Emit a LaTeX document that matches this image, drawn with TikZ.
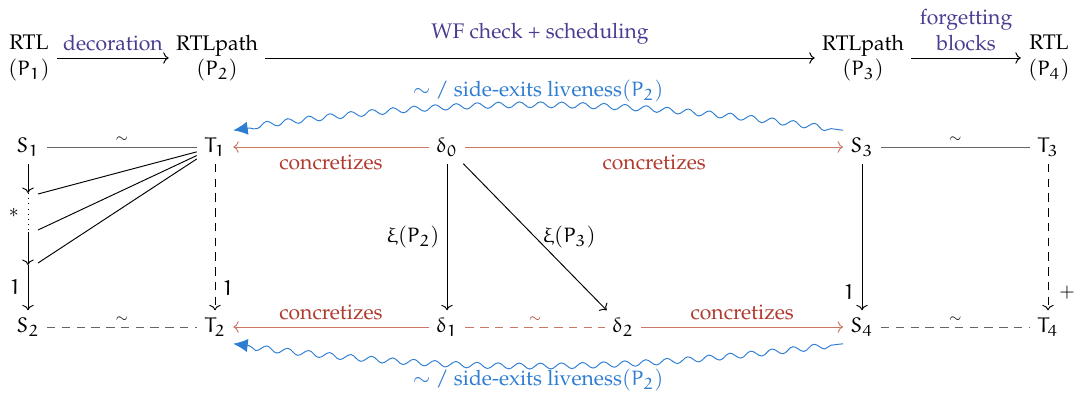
\documentclass[tikz,border=0pt]{standalone}
\usepackage[T1]{fontenc}
\usepackage{mathpazo}
\DeclareSymbolFont{letters}{U}{eur}{m}{n}
\SetSymbolFont{letters}{bold}{U}{eur}{b}{n}
\DeclareMathSymbol{0}{\mathalpha}{letters}{`0}
\DeclareMathSymbol{1}{\mathalpha}{letters}{`1}
\DeclareMathSymbol{2}{\mathalpha}{letters}{`2}
\DeclareMathSymbol{3}{\mathalpha}{letters}{`3}
\DeclareMathSymbol{4}{\mathalpha}{letters}{`4}
\usetikzlibrary{arrows.meta,decorations.pathmorphing}
\definecolor{purp}{RGB}{72,61,145}
\definecolor{redl}{RGB}{204,118,102}
\definecolor{redt}{RGB}{176,58,46}
\definecolor{bluel}{RGB}{46,125,210}
\definecolor{grayl}{RGB}{100,100,100}
\begin{document}
\begin{tikzpicture}[x=0.4735pt,y=-0.4735pt,line width=0.45pt,
  obj/.style={inner sep=3.33pt},
  simline/.style={draw=grayl},
  sim/.style={font=\scriptsize,inner sep=2pt},
  redarr/.style={draw=redl,->},
  rlab/.style={text=redt},
  plab/.style={text=purp},
  dsh/.style={dash pattern=on 4pt off 3pt},
  squig/.style={draw=bluel,-{Latex[length=2.4mm,width=2.2mm]},decorate,
    decoration={snake,amplitude=1.4pt,segment length=10pt,pre length=2mm,post length=2.2mm}},
  blab/.style={text=bluel,inner sep=1.5pt},
 ]
\useasboundingbox (0,0) rectangle (1078,398);
% top row
\node[obj,align=center] (r1) at (29,58) {RTL\\$(P_1)$};
\node[obj,align=center] (r2) at (217,58) {RTLpath\\$(P_2)$};
\node[obj,align=center] (r3) at (863,58) {RTLpath\\$(P_3)$};
\node[obj,align=center] (r4) at (1049,58) {RTL\\$(P_4)$};
\draw[->] (r1) -- node[above,plab] {decoration} (r2);
\draw[->] (r2) -- node[above=3pt,plab] {WF check + scheduling} (r3);
\draw[->] (r3) -- node[above,plab,align=center] {forgetting\\blocks} (r4);
% main nodes
\node[obj] (S1) at (28,147) {$S_1$};
\node[obj] (T1) at (215,147) {$T_1$};
\node[obj] (d0) at (447,147) {$\delta_0$};
\node[obj] (S3) at (862,147) {$S_3$};
\node[obj] (T3) at (1048,147) {$T_3$};
\node[obj] (S2) at (28,327) {$S_2$};
\node[obj] (T2) at (215,327) {$T_2$};
\node[obj] (d1) at (447,327) {$\delta_1$};
\node[obj] (d2) at (623,327) {$\delta_2$};
\node[obj] (S4) at (862,327) {$S_4$};
\node[obj] (T4) at (1048,327) {$T_4$};
% S1 chain
\coordinate (c1) at (28,193);
\coordinate (c2) at (28,232);
\coordinate (c3) at (28,265);
\coordinate (p1) at (38,194);
\coordinate (p2) at (38,230);
\coordinate (p3) at (38,263);
\draw[->] (S1) -- (c1);
\draw[dotted] (c1) -- node[left,font=\small,inner sep=4pt] {$*$} (c2);
\draw[->] (c2) -- (c3);
\draw[->] (c3) -- node[left] {$1$} (S2);
\draw (T1) -- (p1);
\draw (T1) -- (p2);
\draw (T1) -- (p3);
% similarity lines
\draw[simline] (S1) -- node[above,sim] {$\sim$} (T1);
\draw[simline] (S3) -- node[above,sim] {$\sim$} (T3);
\draw[simline,dsh] (S2) -- node[above,sim] {$\sim$} (T2);
\draw[simline,dsh] (S4) -- node[above,sim] {$\sim$} (T4);
\draw[draw=redl,dsh] (d1) -- node[above,sim,text=redt] {$\sim$} (d2);
% vertical
\draw[->,dsh] (T1) -- node[right,pos=.85] {$1$} (T2);
\draw[->] (S3) -- node[left,pos=.88] {$1$} (S4);
\draw[->,dsh] (T3) -- node[right,pos=.88,font=\small,inner sep=5pt] {$+$} (T4);
\draw[->] (d0) -- node[left] {$\xi(P_2)$} (d1);
\draw[->] (d0) -- node[right] {$\xi(P_3)$} (d2);
% concretizes
\draw[redarr] (d0) -- node[below,rlab] {concretizes} (T1);
\draw[redarr] (d0) -- node[below,rlab] {concretizes} (S3);
\draw[redarr] (d1) -- node[above,rlab] {concretizes} (T2);
\draw[redarr] (d2) -- node[above,rlab] {concretizes} (S4);
% squiggly
\draw[squig] (S3.north west) to[bend right=8] node[above,blab] {$\sim$ / side-exits liveness$(P_2)$} (T1.north east);
\draw[squig] (S4.south west) to[bend left=7] node[below,blab] {$\sim$ / side-exits liveness$(P_2)$} (T2.south east);
\end{tikzpicture}
\end{document}
